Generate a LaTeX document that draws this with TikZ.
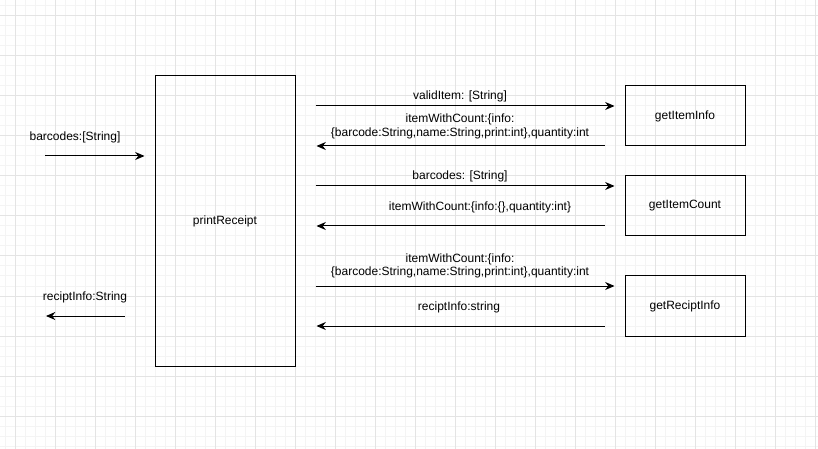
\documentclass[tikz,border=0pt]{standalone}
\usepackage{fontspec}
\setmainfont{Liberation Sans}
\usetikzlibrary{arrows.meta}
\definecolor{gridmajor}{HTML}{E4E4E4}
\definecolor{gridminor}{HTML}{F4F4F4}
\tikzstyle{mainbox} = [rectangle, minimum width=105pt, minimum height=217.5pt, text centered, draw=black, line width=0.75pt]
\tikzstyle{funcbox} = [rectangle, minimum width=90pt, minimum height=45pt, text centered, draw=black, line width=0.75pt]
\tikzstyle{lbl} = [align=center, inner sep=0pt]
\tikzstyle{arrow} = [line width=0.75pt, -{Stealth[length=7pt,width=6pt]}]

\begin{document}
\begin{tikzpicture}[x=0.75pt, y=-0.75pt, font=\fontsize{9}{10.2}\selectfont]
    \useasboundingbox (0,0) rectangle (818,449);

    % grid
    \foreach \x in {5,15,...,815} \draw[gridminor, line width=0.75pt] (\x,0) -- (\x,449);
    \foreach \y in {6,16,...,446} \draw[gridminor, line width=0.75pt] (0,\y) -- (818,\y);
    \foreach \x in {15,55,...,815} \draw[gridmajor, line width=0.75pt] (\x,0) -- (\x,449);
    \foreach \y in {16,56,...,446} \draw[gridmajor, line width=0.75pt] (0,\y) -- (818,\y);

    \node (printReceipt) [mainbox] at (225,221) {printReceipt};
    \node (getItemInfo) [funcbox] at (685,116) {getItemInfo};
    \node (getItemCount) [funcbox] at (685,206) {getItemCount};
    \node (getReciptInfo) [funcbox] at (685,306) {getReciptInfo};

    \coordinate (input) at (45,156);
    \coordinate (output) at (46,316);
    \coordinate (call1) at (0,106);
    \coordinate (back1) at (0,146);
    \coordinate (call2) at (0,186);
    \coordinate (back2) at (0,226);
    \coordinate (call3) at (0,286);
    \coordinate (back3) at (0,326);

    \draw [arrow, shorten >=7.5pt] (input) -- (printReceipt.west |- input);
    \draw [arrow, shorten <=22.5pt] (printReceipt.west |- output) -- (output);

    \draw [arrow, shorten <=15pt, shorten >=7.5pt] (printReceipt.east |- call1) -- (getItemInfo.west |- call1);
    \draw [arrow, shorten <=15pt, shorten >=15.75pt] (getItemInfo.west |- back1) -- (printReceipt.east |- back1);
    \draw [arrow, shorten <=15pt, shorten >=7.5pt] (printReceipt.east |- call2) -- (getItemCount.west |- call2);
    \draw [arrow, shorten <=15pt, shorten >=15.75pt] (getItemCount.west |- back2) -- (printReceipt.east |- back2);
    \draw [arrow, shorten <=15pt, shorten >=7.5pt] (printReceipt.east |- call3) -- (getReciptInfo.west |- call3);
    \draw [arrow, shorten <=15pt, shorten >=15.75pt] (getReciptInfo.west |- back3) -- (printReceipt.east |- back3);

    \node (inLbl) [lbl] at (75,137) {barcodes:[String]};
    \node (outLbl) [lbl] at (85,297) {reciptInfo:String};
    \node (call1Lbl) [lbl] at (460,96) {validItem: [String]};
    \node (back1Lbl) [lbl] at (460,126.5) {itemWithCount:\{info:\\\{barcode:String,name:String,print:int\},quantity:int};
    \node (call2Lbl) [lbl] at (460,176) {barcodes: [String]};
    \node (back2Lbl) [lbl] at (480,207) {itemWithCount:\{info:\{\},quantity:int\}};
    \node (call3Lbl) [lbl] at (460,266) {itemWithCount:\{info:\\\{barcode:String,name:String,print:int\},quantity:int};
    \node (back3Lbl) [lbl] at (459,307) {reciptInfo:string};

\end{tikzpicture}
\end{document}
